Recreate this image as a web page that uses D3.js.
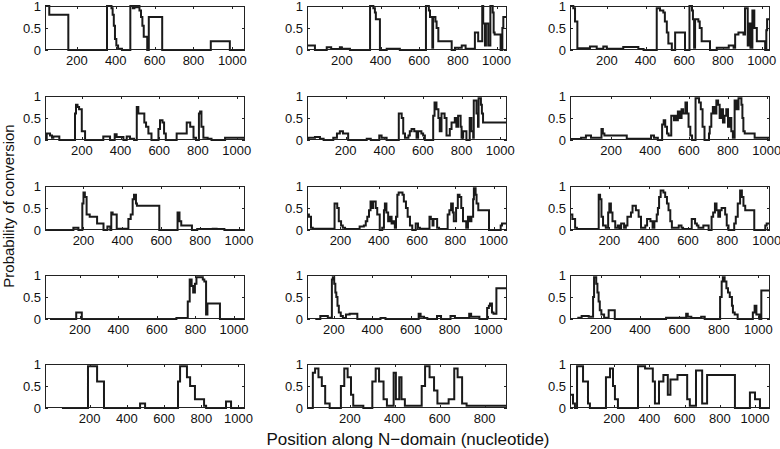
<!DOCTYPE html>
<html><head><meta charset="utf-8">
<script src="https://cdn.jsdelivr.net/npm/d3@7"></script>
<style>body{margin:0;background:#fff}svg{display:block}text{font-family:"Liberation Sans",Arial,sans-serif;fill:#111}</style>
</head><body><svg id="c" width="780" height="449"></svg>
<script>
const xTicks=[200,400,600,800,1000];
const yTicks=[0,0.5,1];
const yTickLabels=["0","0.5","1"];
const xLabel="Position along N\u2212domain (nucleotide)";
const yLabel="Probability of conversion";
// x-axis domain of each panel (row by row)
const xStart=[36,20,10, 10,0,-12, 2,25,0, 19,61,45, -40,9,-50];
const xEnd=[1065,1054,1043, 1043,1035,1017, 1031,1070,1017, 1057,1098,1059, 1035,900,1085];
// step series: [position, probability]
const p11=[[36,1],[58,0.8],[156,0],[355,1],[378,0.95],[384,0.8],[390,0.55],[396,0.25],[403,0.1],[412,0.03],[432,0],[475,1],[488,0.95],[496,1],[505,0.97],[515,1],[522,0.9],[530,0.75],[537,0.55],[544,0.3],[562,0],[570,0.75],[639,0],[889,0.2],[987,0]];
const p12=[[20,0.1],[61,0],[122,0.06],[145,0.02],[190,0.06],[200,0.03],[242,0],[346,1],[363,0.95],[371,0.85],[376,0.7],[397,0],[432,0.03],[500,0],[635,1],[650,0.9],[656,0.75],[668,0.05],[672,0.75],[684,0.65],[690,0.5],[699,0.2],[768,0],[785,0.05],[820,0.1],[840,0.03],[888,0.4],[905,0.2],[926,1],[931,0.6],[940,0.1],[945,0.6],[957,0.1],[968,1],[980,0.85],[985,0.4],[990,0.35],[1021,0],[1030,0.5],[1035,0.75]];
const p13=[[10,1],[27,0.95],[36,0.65],[48,0.04],[113,0.08],[148,0.03],[182,0.08],[200,0.03],[285,0.07],[363,0.02],[390,0],[458,0.95],[475,0.9],[492,0.85],[500,0.65],[510,0.4],[518,0.15],[536,0],[553,0.4],[604,0],[627,1],[640,0.9],[645,0.7],[651,0.05],[656,0.7],[673,0.65],[680,0.5],[690,0.2],[733,0],[768,0.05],[830,0.1],[855,0.05],[863,0.35],[880,0.4],[906,0.35],[914,0.95],[928,0.1],[933,0.6],[942,0.05],[952,0.9],[962,0.5],[975,0.2],[1018,0],[1024,0.45],[1028,0.7]];
const p21=[[10,0],[19,0.15],[36,0.1],[46,0.05],[53,0.08],[84,0],[165,0.6],[170,0.8],[178,0.75],[186,0.7],[200,0.2],[217,0],[311,0.08],[346,0],[370,0.13],[380,0.07],[415,0],[432,0.08],[449,0.03],[470,0],[484,0.75],[492,0.6],[523,0.4],[532,0.3],[544,0.15],[560,0],[596,0.25],[604,0.45],[617,0.4],[625,0.15],[634,0],[690,0.15],[742,0.4],[760,0.3],[777,0.05],[790,0],[805,0.6],[811,0.65],[818,0.3],[828,0.05],[850,0.03],[870,0],[940,0.05]];
const p22=[[0,0],[7,0.05],[41,0.07],[67,0.03],[86,0],[136,0.05],[155,0.15],[170,0.2],[186,0.15],[213,0],[309,0.03],[330,0],[374,0.1],[386,0.05],[412,0],[475,0.6],[490,0.5],[498,0.15],[507,0.05],[525,0.1],[532,0.2],[541,0.25],[555,0.2],[567,0.05],[575,0.2],[592,0.15],[601,0.1],[610,0],[653,0.55],[660,0.85],[670,0.7],[680,0.5],[687,0.2],[696,0.6],[712,0.5],[722,0.1],[739,0.25],[748,0.4],[765,0.5],[773,0.3],[782,0.55],[795,0.3],[800,0.05],[808,0.2],[825,0],[842,0.5],[851,0.2],[860,0.05],[863,0.9],[877,0.6],[885,0.3],[888,0.95],[900,0.8],[905,0.6],[911,0.4]];
const p23=[[-12,0],[-6,0.02],[45,0.05],[70,0.1],[96,0.05],[150,0.25],[157,0.15],[165,0.1],[280,0.03],[405,0.1],[420,0.05],[440,0],[462,0.35],[470,0.45],[478,0.3],[487,0.15],[495,0.1],[509,0.55],[523,0.45],[530,0.55],[538,0.45],[543,0.65],[553,0.5],[562,0.7],[570,0.6],[582,0.85],[590,0.6],[598,0.3],[607,0.1],[616,0],[634,0.95],[652,0.85],[661,0.7],[670,0.3],[680,0],[703,0.15],[707,0.3],[715,0.6],[723,0.75],[732,0.6],[741,0.9],[750,0.8],[758,0.5],[767,0.7],[775,0.4],[783,0.55],[792,0.7],[801,0.3],[810,0.5],[818,0.2],[826,0.05],[835,0.9],[845,0.7],[855,0.95],[870,0.8],[875,0.5],[880,0.2],[887,0.15],[938,0.05]];
const p31=[[2,0],[148,0.05],[174,0],[194,0.6],[200,0.85],[207,0.75],[216,0.35],[232,0.3],[270,0.15],[303,0],[323,0.08],[338,0],[343,0.4],[350,0.35],[371,0.03],[431,0.25],[443,0.35],[453,0.7],[460,0.8],[470,0.6],[475,0.55],[590,0],[684,0.4],[694,0.2],[703,0.1],[758,0],[785,0.02],[865,0.03],[885,0.02],[925,0]];
const p32=[[25,0.35],[35,0.3],[46,0.05],[55,0.03],[169,0.6],[183,0.5],[191,0.2],[203,0.1],[212,0.05],[224,0.02],[300,0.08],[322,0.1],[332,0.2],[340,0.3],[349,0.45],[357,0.65],[362,0.5],[370,0.65],[384,0.5],[392,0.35],[405,0],[418,0.05],[427,0.45],[432,0.6],[440,0.4],[449,0.2],[458,0.3],[467,0.15],[476,0.2],[484,0.05],[490,0.3],[497,0.8],[504,0.85],[524,0.8],[531,0.65],[542,0.5],[551,0.3],[563,0.1],[575,0],[593,0.15],[605,0.05],[615,0.03],[665,0.3],[672,0.25],[681,0.1],[686,0.25],[705,0.05],[715,0.02],[760,0.35],[769,0.45],[778,0.6],[787,0.4],[792,0.2],[804,0.5],[813,0.8],[822,0.75],[831,0.5],[840,0.2],[857,0.05],[866,0.3],[875,0.2],[884,0.3],[893,0.7],[897,0.95],[906,0.8],[911,0.6],[920,0.45],[976,0],[1037,0.1],[1044,0.15]];
const p33=[[0,0.35],[12,0.25],[26,0.05],[35,0.02],[146,0.8],[153,0.7],[160,0.3],[168,0.1],[182,0.05],[194,0.4],[200,0.6],[208,0.4],[216,0.2],[230,0.05],[243,0.1],[252,0.03],[260,0.15],[275,0.05],[284,0.1],[292,0.3],[310,0.4],[318,0.55],[335,0.45],[349,0.3],[361,0.05],[383,0.1],[392,0.25],[409,0.2],[420,0.05],[429,0.2],[441,0.35],[447,0.5],[453,0.75],[461,0.9],[475,0.85],[484,0.75],[493,0.6],[501,0.45],[510,0.2],[518,0.05],[553,0.1],[567,0.05],[575,0.02],[619,0.25],[636,0.15],[645,0.1],[653,0.05],[678,0.1],[705,0],[720,0.3],[728,0.4],[737,0.6],[745,0.45],[754,0.3],[763,0.45],[771,0.5],[789,0.35],[797,0.1],[806,0],[835,0.15],[843,0.3],[853,0.6],[865,0.9],[874,0.75],[882,0.55],[891,0.45],[937,0],[993,0.1],[1000,0.15]];
const p41=[[45,0],[181,0.15],[210,0],[701,0.02],[760,0.4],[770,0.9],[780,0.75],[788,0.6],[797,0.8],[805,0.95],[838,0.9],[846,0.85],[855,0.1],[862,0.35],[927,0]];
const p42=[[104,0],[130,0.07],[169,0.03],[190,0.9],[195,0.95],[202,0.8],[208,0.6],[213,0.5],[219,0.3],[226,0.15],[236,0.07],[247,0.02],[263,0.1],[282,0.12],[322,0],[442,0.02],[468,0],[640,0.12],[650,0.05],[668,0.02],[685,0],[735,0.07],[756,0],[805,0.07],[828,0.02],[902,0.12],[912,0.05],[955,0],[995,0.25],[1004,0.3],[1010,0.35],[1020,0.15],[1028,0.12],[1043,0.7]];
const p43=[[82,0.03],[104,0.07],[140,0.05],[162,0.5],[167,0.95],[178,0.8],[184,0.6],[190,0.4],[196,0.2],[204,0.1],[218,0.03],[241,0.2],[272,0],[532,0.03],[634,0.12],[642,0.05],[660,0.02],[710,0.05],[728,0],[806,0.5],[814,0.85],[820,0.95],[829,0.85],[838,0.7],[846,0.6],[855,0.5],[866,0.3],[871,0.15],[880,0.1],[895,0],[972,0.15],[981,0.3],[990,0.1],[1005,0],[1015,0.65]];
const p51=[[51,0],[191,0.95],[240,0.6],[277,0],[471,0.1],[498,0],[675,0.6],[686,0.95],[723,0.7],[740,0.5],[766,0.2],[815,0.05],[826,0],[933,0.15],[960,0]];
const p52=[[9,0],[35,0.8],[45,0.9],[60,0.7],[75,0.5],[90,0.1],[110,0],[160,0.5],[175,0.9],[190,0.7],[205,0.3],[215,0.05],[260,0],[300,0.6],[315,0.9],[330,0.6],[350,0.2],[365,0.05],[395,0.8],[405,0.2],[420,0.7],[430,0.2],[445,0.05],[520,0.5],[535,0.95],[555,0.7],[575,0.4],[590,0.1],[640,0.2],[665,0.9],[680,0.7],[700,0.1],[720,0.05]];
const p53=[[-50,0.3],[-33,0.1],[-22,0],[-10,0.95],[24,0.6],[52,0.1],[63,0],[154,0.7],[177,0.9],[194,0.5],[205,0.2],[222,0],[336,0.95],[376,0.9],[420,0.6],[432,0.1],[455,0.6],[480,0.75],[505,0.3],[520,0.65],[560,0.75],[615,0.2],[630,0.05],[665,0.85],[700,0.1],[728,0.75],[886,0],[971,0.35],[1000,0.2],[1028,0]];
const panels=[p11,p12,p13,p21,p22,p23,p31,p32,p33,p41,p42,p43,p51,p52,p53];

const colLeft=[45,307,570], rowTop=[6,96,186,275,364], W=200, H=44;
const svg=d3.select("#c");
const defs=svg.append("defs");
panels.forEach((data,i)=>{
  const r=Math.floor(i/3), c=i%3;
  const x=d3.scaleLinear().domain([xStart[i],xEnd[i]]).range([0,W]);
  const y=d3.scaleLinear().domain([0,1]).range([H,0]);
  const g=svg.append("g").attr("transform",`translate(${colLeft[c]},${rowTop[r]})`);
  defs.append("clipPath").attr("id","cp"+i).append("rect").attr("x",0).attr("y",-2).attr("width",W).attr("height",H+3);
  const pts=data.concat([[xEnd[i],data[data.length-1][1]]]);
  g.append("path").attr("clip-path",`url(#cp${i})`).attr("d",d3.line().x(d=>x(d[0])).y(d=>y(d[1])).curve(d3.curveStepAfter)(pts))
    .attr("fill","none").attr("stroke","#1a1a1a").attr("stroke-width",2).attr("stroke-linejoin","miter");
  g.append("rect").attr("x",0.5).attr("y",0.5).attr("width",W-1).attr("height",H-1).attr("fill","none").attr("stroke","#222").attr("stroke-width",1);
  xTicks.filter(t=>t>=xStart[i]&&t<=xEnd[i]).forEach(t=>{
    const xp=Math.round(x(t))+0.5;
    g.append("line").attr("x1",xp).attr("x2",xp).attr("y1",H).attr("y2",H-3).attr("stroke","#222");
    g.append("line").attr("x1",xp).attr("x2",xp).attr("y1",0).attr("y2",3).attr("stroke","#222");
    g.append("text").attr("x",x(t)).attr("y",H+15).attr("text-anchor","middle").attr("font-size",13).text(t);
  });
  yTicks.forEach((t,k)=>{
    const yp=Math.round(y(t))+0.5;
    g.append("line").attr("x1",0).attr("x2",3).attr("y1",yp).attr("y2",yp).attr("stroke","#222");
    g.append("line").attr("x1",W).attr("x2",W-3).attr("y1",yp).attr("y2",yp).attr("stroke","#222");
    g.append("text").attr("x",-4).attr("y",y(t)+4.5).attr("text-anchor","end").attr("font-size",13).text(yTickLabels[k]);
  });
});
svg.append("text").attr("x",408).attr("y",445).attr("text-anchor","middle").attr("font-size",17).text(xLabel);
svg.append("text").attr("transform","translate(14,206) rotate(-90)").attr("text-anchor","middle").attr("font-size",15).text(yLabel);
</script></body></html>
